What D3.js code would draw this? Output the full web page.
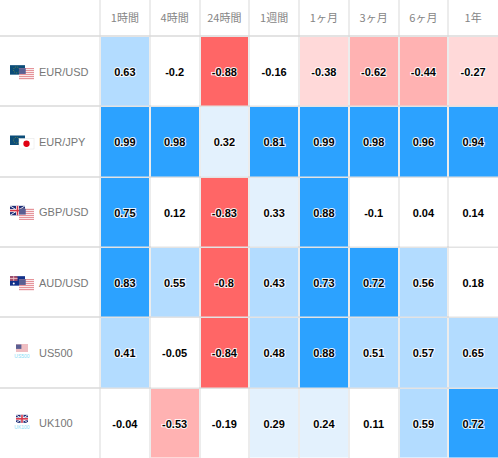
<!DOCTYPE html>
<html><head><meta charset="utf-8">
<script src="https://cdn.jsdelivr.net/npm/d3@7/dist/d3.min.js"></script>
<style>html,body{margin:0;padding:0;background:#fff}svg{display:block}</style>
</head><body><svg id="c" width="498" height="458"></svg>
<script>
const periods = ["1時間","4時間","24時間","1週間","1ヶ月","3ヶ月","6ヶ月","1年"];
const symbols = ["EUR/USD","EUR/JPY","GBP/USD","AUD/USD","US500","UK100"];
const flags = [["eu","us"],["eu","jp"],["gb","us"],["au","us"],["us"],["gb"]];
const v0 = [0.63,-0.2,-0.88,-0.16,-0.38,-0.62,-0.44,-0.27];
const v1 = [0.99,0.98,0.32,0.81,0.99,0.98,0.96,0.94];
const v2 = [0.75,0.12,-0.83,0.33,0.88,-0.1,0.04,0.14];
const v3 = [0.83,0.55,-0.8,0.43,0.73,0.72,0.56,0.18];
const v4 = [0.41,-0.05,-0.84,0.48,0.88,0.51,0.57,0.65];
const v5 = [-0.04,-0.53,-0.19,0.29,0.24,0.11,0.59,0.72];
const rows = [v0,v1,v2,v3,v4,v5];
const bins = [-0.7,-0.4,-0.2,0.2,0.4,0.7];
const fills = ["#ff6666","#ffb2b2","#ffd9d9","#ffffff","#e3f1fd","#b3dcff","#2ca2ff"];

const svg = d3.select("#c");
const x = d3.scaleBand().domain(periods).range([100,498]);
const y = d3.scaleBand().domain(symbols).range([36,458]);
const color = d3.scaleThreshold().domain(bins).range(fills);
const sans = "'Liberation Sans',Arial,sans-serif";

// grid lines
const grid = svg.append("g").attr("stroke","#e8e8e8").attr("stroke-width",1.6);
periods.forEach(p=>grid.append("line").attr("x1",Math.round(x(p))).attr("x2",Math.round(x(p))).attr("y1",0).attr("y2",458));
symbols.forEach(s=>svg.append("line").attr("stroke","#dadada").attr("stroke-width",1.5).attr("x1",0).attr("x2",498)
  .attr("y1",Math.round(y(s))).attr("y2",Math.round(y(s))));

// headers
svg.append("g").selectAll("text").data(periods).join("text")
  .attr("x",d=>x(d)+x.bandwidth()/2).attr("y",18).attr("dy","0.35em").attr("text-anchor","middle")
  .attr("font-family","'Noto Sans CJK JP',"+sans).attr("font-size",11).attr("fill","#858585").text(d=>d);

// cells
rows.forEach((r,i)=>{
  const s=symbols[i];
  const data=r.map((v,j)=>({v,p:periods[j],last:j===periods.length-1}));
  const cells=svg.append("g").selectAll("g").data(data).join("g");
  cells.append("rect")
    .attr("x",d=>Math.round(x(d.p))+1).attr("y",Math.round(y(s))+1)
    .attr("width",d=>Math.round(x(d.p)+x.bandwidth())-Math.round(x(d.p))-(d.last?1:2))
    .attr("height",Math.round(y(s)+y.bandwidth())-Math.round(y(s))-1.5)
    .attr("fill",d=>color(d.v));
  cells.append("text")
    .attr("x",d=>x(d.p)+x.bandwidth()/2).attr("y",y(s)+y.bandwidth()/2+1).attr("dy","0.35em")
    .attr("text-anchor","middle").attr("font-family",sans).attr("font-size",11).attr("font-weight",700)
    .attr("fill","#000").attr("stroke","#fff").attr("stroke-width",2).attr("stroke-opacity",.9).attr("paint-order","stroke")
    .text(d=>d.v);
});

// flag painters
const painters={
 eu(g,w,h){g.append("rect").attr("width",w).attr("height",h).attr("fill","#0b4c78");
   g.append("circle").attr("cx",w/2-1).attr("cy",h/2).attr("r",h/3.2).attr("fill","none").attr("stroke","#8a9a3a").attr("stroke-width",.7).attr("stroke-dasharray","1 1");},
 us(g,w,h){g.append("rect").attr("width",w).attr("height",h).attr("fill","#fff");
   d3.range(0,h,2).forEach(t=>g.append("rect").attr("y",t).attr("width",w).attr("height",1).attr("fill","#e07f86"));
   g.append("rect").attr("width",w*.45).attr("height",h*.55).attr("fill","#5a5f92");},
 jp(g,w,h){g.append("rect").attr("width",w).attr("height",h).attr("fill","#fff").attr("stroke","#e4e4e4").attr("stroke-width",.5);
   g.append("circle").attr("cx",w/2).attr("cy",h/2).attr("r",h*.3).attr("fill","#e00012");},
 gb(g,w,h){g.append("rect").attr("width",w).attr("height",h).attr("fill","#1f2f78");
   [[0,0,w,h],[0,h,w,0]].forEach(a=>g.append("line").attr("x1",a[0]).attr("y1",a[1]).attr("x2",a[2]).attr("y2",a[3]).attr("stroke","#fff").attr("stroke-width",.9));
   g.append("rect").attr("x",w/2-1.5).attr("width",3).attr("height",h).attr("fill","#fff");
   g.append("rect").attr("y",h/2-1.5).attr("width",w).attr("height",3).attr("fill","#fff");
   g.append("rect").attr("x",w/2-.8).attr("width",1.6).attr("height",h).attr("fill","#d8384a");
   g.append("rect").attr("y",h/2-.8).attr("width",w).attr("height",1.6).attr("fill","#d8384a");},
 au(g,w,h){g.append("rect").attr("width",w).attr("height",h).attr("fill","#12308a");
   g.append("rect").attr("width",w*.5).attr("height",h*.5).attr("fill","#a8506a");
   g.append("rect").attr("x",w*.25-.4).attr("width",.8).attr("height",h*.5).attr("fill","#f4c8d0");
   g.append("rect").attr("y",h*.25-.4).attr("width",w*.5).attr("height",.8).attr("fill","#f4c8d0");
   g.append("circle").attr("cx",w*.75).attr("cy",h*.6).attr("r",1).attr("fill","#fff");
   g.append("circle").attr("cx",w*.25).attr("cy",h*.78).attr("r",1).attr("fill","#fff");}
};
function flag(code,px,py,w,h){const g=svg.append("g").attr("transform",`translate(${px},${py})`);painters[code](g,w,h);}

// row labels and flags
symbols.forEach((s,i)=>{
  const cy=y(s)+y.bandwidth()/2, f=flags[i];
  const mono=f.length===1;
  svg.append("text").attr("x",39).attr("y",cy+.6).attr("dy","0.35em").attr("font-family",sans).attr("font-size",11).attr("fill","#777").text(s);
  if(mono){
    flag(f[0],16,cy-8,12,8);
    svg.append("text").attr("x",22).attr("y",cy+5.8).attr("text-anchor","middle").attr("font-family",sans).attr("font-size",5).attr("fill","#86dcf5").text(s);
  } else {
    flag(f[0],10,cy-6,15,9.5);
    flag(f[1],19,cy-3,15,10.5);
  }
});
</script></body></html>
